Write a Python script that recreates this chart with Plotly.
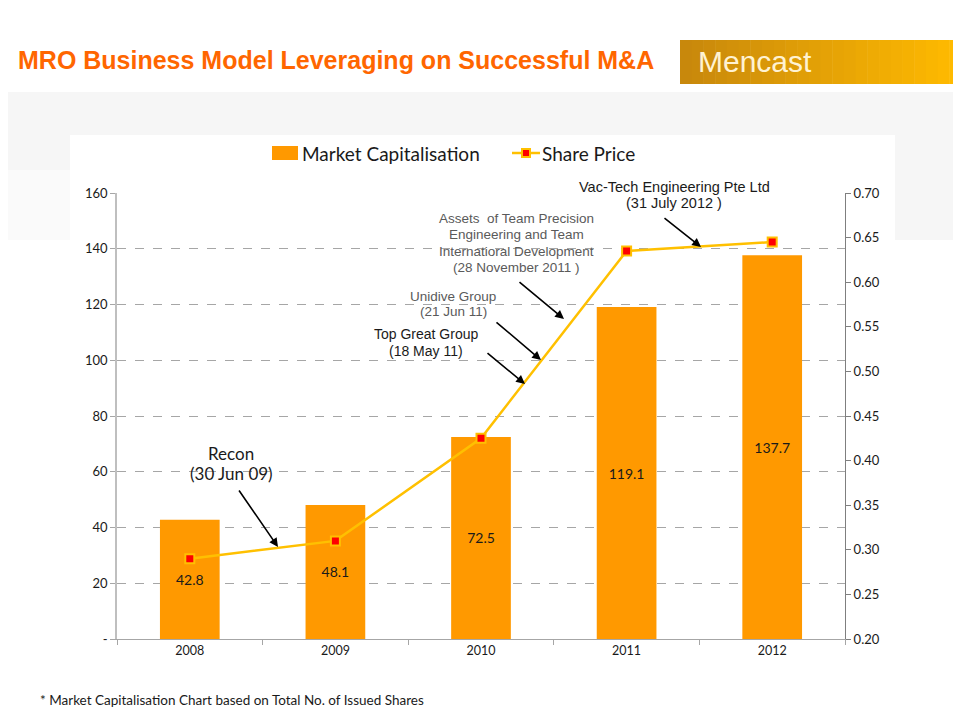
import plotly.graph_objects as go

# Chart data
years = ["2008", "2009", "2010", "2011", "2012"]
market_cap = [42.8, 48.1, 72.5, 119.1, 137.7]
share_price = [0.29, 0.31, 0.425, 0.635, 0.645]

left_ticks = [0, 20, 40, 60, 80, 100, 120, 140, 160]
left_labels = ["-", "20", "40", "60", "80", "100", "120", "140", "160"]

bar_color = "#FF9900"
line_color = "#FFC000"

# page is drawn with an 8px body margin, so the figure is 8px smaller
W, H = 953, 719
PL, PR, PT, PB = 117, 845, 193, 639  # plot area in window pixels


def px(x):
    return (x - PL) / (PR - PL)


def py(y):
    return (PB - y) / (PB - PT)


fig = go.Figure()

fig.add_trace(go.Bar(
    x=years, y=market_cap, name="Market Capitalisation",
    marker=dict(color=bar_color, line=dict(width=0)),
    width=0.41,
    text=[f"{v:.1f}" for v in market_cap],
    textposition="inside", insidetextanchor="middle",
    textfont=dict(family="Lato", size=14, color="#1a1a1a"),
))

fig.add_trace(go.Scatter(
    x=years, y=share_price, name="Share Price", yaxis="y2",
    mode="lines+markers",
    line=dict(color=line_color, width=2.5),
    marker=dict(symbol="square", size=9, color="#FF0000",
                line=dict(color=line_color, width=2)),
))

# faint slide background behind the white chart box
fig.add_shape(type="rect", xref="paper", yref="paper", x0=px(0), x1=px(961), y0=py(240), y1=py(92),
              line=dict(width=0), fillcolor="#F6F6F6", layer="below")
fig.add_shape(type="rect", xref="paper", yref="paper", x0=px(0), x1=px(70), y0=py(240), y1=py(170),
              line=dict(width=0), fillcolor="#FAFAFA", layer="below")
fig.add_shape(type="rect", xref="paper", yref="paper", x0=px(70), x1=px(895), y0=py(672), y1=py(135),
              line=dict(width=0), fillcolor="white", layer="below")

# Acquisition notes: lines, centre x, first line y, line step, colour, font, size, arrow tail, arrow tip (pixels)
notes = [
    (["Recon", "(30 Jun 09)"], 231, 453, 20, "#1a1a1a", "Lato", 17, (238, 489), (278, 547)),
    (["Top Great Group", "(18 May 11)"], 426, 334, 17, "#1a1a1a", "Liberation Sans", 14, (486, 352), (525, 384)),
    (["Unidive Group", "(21 Jun 11)"], 453, 296, 15, "#5a5a5a", "Liberation Sans", 13.5, (495, 321), (541, 360)),
    (["Assets  of Team Precision", "Engineering and Team", "Internatioral Development", "(28 November 2011 )"],
     516, 218, 16.5, "#5a5a5a", "Liberation Sans", 13.5, (518, 281), (564, 319)),
    (["Vac-Tech Engineering Pte Ltd", "(31 July 2012 )"], 674, 187, 16, "#1a1a1a", "Liberation Sans", 14.5, (663, 217), (701, 247)),
]

for lines, cx, y0, step, col, fam, sz, tail, tip in notes:
    for i, line in enumerate(lines):
        fig.add_annotation(x=px(cx), y=py(y0 + i * step), xref="paper", yref="paper", text=line,
                           showarrow=False, xanchor="center", yanchor="middle",
                           font=dict(family=fam, size=sz, color=col))
    fig.add_annotation(x=px(tip[0]), y=py(tip[1]), ax=tail[0] - tip[0], ay=tail[1] - tip[1],
                       xref="paper", yref="paper", axref="pixel", ayref="pixel",
                       text="", showarrow=True, arrowhead=2, arrowsize=1.1,
                       arrowwidth=1.6, arrowcolor="#000000")

# Manual legend
fig.add_shape(type="rect", xref="paper", yref="paper", x0=px(272), x1=px(298), y0=py(160), y1=py(146),
              line=dict(width=0), fillcolor=bar_color)
fig.add_annotation(x=px(300), y=py(153), xref="paper", yref="paper", text="Market Capitalisation",
                   showarrow=False, xanchor="left", yanchor="middle",
                   font=dict(family="Lato", size=19, color="#1a1a1a"))
fig.add_shape(type="line", xref="paper", yref="paper", x0=px(512), x1=px(540), y0=py(153), y1=py(153),
              line=dict(color=line_color, width=2.5))
fig.add_shape(type="rect", xref="paper", yref="paper", x0=px(522), x1=px(530), y0=py(157), y1=py(149),
              line=dict(color=line_color, width=2), fillcolor="#FF0000")
fig.add_annotation(x=px(540), y=py(153), xref="paper", yref="paper", text="Share Price",
                   showarrow=False, xanchor="left", yanchor="middle",
                   font=dict(family="Lato", size=19, color="#1a1a1a"))

# Mencast logo box with a simple left-to-right gradient
c0, c1 = (200, 136, 12), (255, 186, 0)
n = 24
for i in range(n):
    t = i / (n - 1)
    c = tuple(round(a + (b - a) * t) for a, b in zip(c0, c1))
    fig.add_shape(type="rect", xref="paper", yref="paper",
                  x0=px(680 + i * 281 / n), x1=px(680 + (i + 1) * 281 / n + 0.5), y0=py(84), y1=py(40),
                  line=dict(width=0), fillcolor=f"rgb{c}", layer="above")
fig.add_annotation(x=px(696), y=py(61), xref="paper", yref="paper", text="Mencast",
                   showarrow=False, xanchor="left", yanchor="middle",
                   font=dict(family="Liberation Sans Narrow, Liberation Sans", size=30, color="#FFF2D2"))

# Footnote
fig.add_annotation(x=px(38), y=py(700), xref="paper", yref="paper",
                   text="* Market Capitalisation Chart based on Total No. of Issued Shares",
                   showarrow=False, xanchor="left", yanchor="middle",
                   font=dict(family="Lato", size=13.5, color="#1a1a1a"))

fig.update_layout(
    width=W, height=H,
    margin=dict(l=PL - 8, r=W + 8 - PR, t=PT - 8, b=H + 8 - PB, pad=0),
    paper_bgcolor="white", plot_bgcolor="white",
    font=dict(family="Lato", size=13, color="#1a1a1a"),
    showlegend=False,
    title=dict(text="<b>MRO Business Model Leveraging on Successful M&A</b>",
               x=10 / W, y=1 - 52 / H, xref="container", yref="container",
               xanchor="left", yanchor="middle",
               font=dict(family="Liberation Sans", size=25, color="#FF6600")),
    xaxis=dict(type="category", range=[-0.5, 4.5], showline=True, linecolor="#A6A6A6", linewidth=1,
               ticks="outside", tickson="boundaries", ticklen=5, tickcolor="#A6A6A6",
               tickfont=dict(family="Lato", size=12.5, color="#1a1a1a"), showgrid=False),
    yaxis=dict(range=[0, 160], tickvals=left_ticks, ticktext=left_labels, showline=True,
               linecolor="#BFBFBF", linewidth=1.5, ticks="outside", ticklen=5, tickcolor="#A6A6A6",
               showgrid=True, gridcolor="#A6A6A6", griddash="dash", gridwidth=1, zeroline=False,
               tickfont=dict(family="Lato", size=13, color="#1a1a1a")),
    yaxis2=dict(range=[0.2, 0.7], dtick=0.05, tick0=0.2, tickformat=".2f", overlaying="y", side="right",
                showline=True, linecolor="#7F7F7F", linewidth=1, ticks="outside", ticklen=5,
                tickcolor="#7F7F7F", showgrid=False, zeroline=False,
                tickfont=dict(family="Lato", size=13, color="#1a1a1a")),
)

fig.write_html("out.html")
